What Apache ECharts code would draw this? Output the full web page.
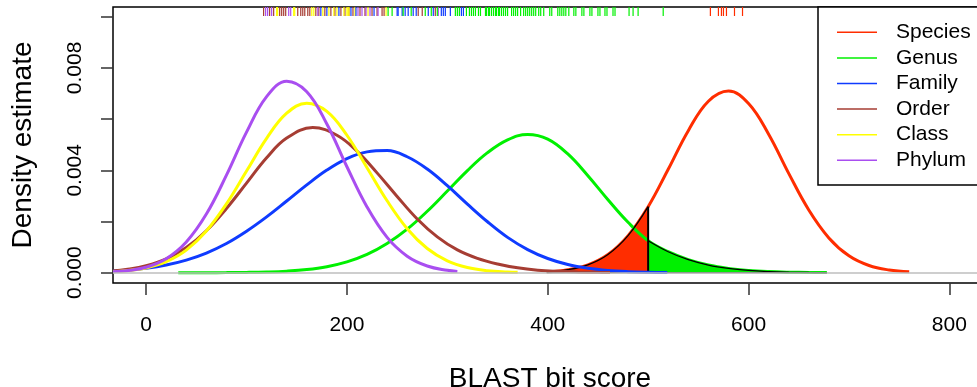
<!DOCTYPE html>
<html>
<head>
<meta charset="utf-8">
<script src="https://cdn.jsdelivr.net/npm/echarts@6/dist/echarts.min.js"></script>
<style>
  html, body { margin: 0; padding: 0; background: #fff; }
  #chart { width: 977px; height: 387px; }
</style>
</head>
<body>
<div id="chart"></div>
<script>
// Density estimates of BLAST bit scores per taxonomic rank (bit score -> density)
const speciesX = [399, 420, 440, 460, 480, 500, 520, 540, 560, 580, 600, 620, 640, 660, 680, 700, 720, 740, 760];
const speciesY = [0.0000369, 0.000117, 0.000308, 0.000713, 0.00145, 0.00258, 0.00404, 0.00555, 0.00670, 0.00710,
                  0.00661, 0.00541, 0.00388, 0.00245, 0.00136, 0.000660, 0.000281, 0.000106, 0.0000348];

const genusX = [32, 60, 80, 100, 120, 140, 160, 180, 200, 220, 240, 260, 280, 300, 320, 340, 360, 380, 400, 420,
                440, 460, 480, 500, 520, 540, 560, 580, 600, 620, 640, 660, 678];
const genusY = [0.00000045, 0.0000019, 0.0000049, 0.000012, 0.0000278, 0.0000600, 0.000122, 0.000234, 0.000421, 0.000713,
                0.00114, 0.00170, 0.00240, 0.00319, 0.00399, 0.00469, 0.00519, 0.00540, 0.00522, 0.00464,
                0.00379, 0.00285, 0.00197, 0.00125, 0.000820, 0.000508, 0.000298, 0.000166, 0.0000874, 0.0000436,
                0.0000206, 0.0000092, 0.0000043];

const familyX = [-33, -20, 0, 20, 40, 60, 80, 100, 120, 140, 160, 180, 200, 220, 240, 260, 280, 300, 320, 340,
                 360, 380, 400, 420, 440, 460, 480, 500, 519];
const familyY = [0.0000646, 0.0000972, 0.000175, 0.000301, 0.000493, 0.000768, 0.00114, 0.00162, 0.00218, 0.00280,
                 0.00343, 0.00401, 0.00446, 0.00472, 0.00477, 0.00453, 0.00405, 0.00340, 0.00268, 0.00199,
                 0.00138, 0.000904, 0.000555, 0.000320, 0.000174, 0.0000884, 0.0000423, 0.000019, 0.0000084];

const orderX = [-33, -20, 0, 20, 40, 60, 80, 100, 120, 140, 166, 190, 210, 230, 250, 270, 290, 310, 330, 350,
                370, 390, 410, 430, 450, 462];
const orderY = [0.0000716, 0.000124, 0.000271, 0.000539, 0.000983, 0.00164, 0.00251, 0.00350, 0.00449, 0.00526,
                0.00567, 0.00537, 0.00475, 0.00390, 0.00298, 0.00210, 0.00140, 0.00089, 0.00056, 0.00034,
                0.00019, 0.00010, 0.000055, 0.00003, 0.000015, 0.00001];

const classX = [-33, -20, 0, 20, 40, 60, 80, 100, 120, 140, 160, 180, 200, 220, 240, 260, 280, 300, 320, 340, 360, 370];
const classY = [0.0000375, 0.0000732, 0.000187, 0.000430, 0.000884, 0.00163, 0.00269, 0.00397, 0.00525, 0.00623,
                0.00662, 0.00630, 0.00537, 0.00410, 0.00281, 0.00172, 0.000945, 0.000465, 0.000205, 0.0000808,
                0.0000286, 0.0000163];

const phylumX = [-33, -20, 0, 20, 40, 60, 80, 100, 120, 140, 160, 180, 200, 220, 240, 260, 280, 300, 310];
const phylumY = [0.0000342, 0.0000740, 0.000215, 0.000545, 0.00120, 0.00229, 0.00381, 0.00549, 0.00688, 0.00748,
                 0.00707, 0.00581, 0.00414, 0.00257, 0.00138, 0.000646, 0.000262, 0.0000926, 0.0000521];

// Individual bit scores (rug along the top edge)
const speciesRug = [562, 570, 573, 575, 578, 586, 594];
const genusRug = [241, 245, 256, 264, 278, 284, 290, 308, 310, 312, 319, 322, 324, 326, 328, 331, 333, 338, 339, 341,
                  342, 344, 346, 348, 349, 351, 352, 354, 356, 358, 360, 364, 366, 368, 370, 373, 376, 378, 380, 382,
                  384, 386, 388, 391, 393, 396, 402, 404, 410, 412, 414, 416, 418, 421, 426, 428, 434, 436, 442, 444,
                  450, 452, 457, 459, 465, 467, 481, 485, 490, 515];
const familyRug = [174, 180, 192, 204, 209, 227, 250, 251, 255, 258, 261, 266, 269, 281, 286, 294, 296, 298, 303, 314, 316];
const orderRug = [117, 123, 127, 133, 135, 137, 139, 151, 154, 156, 158, 161, 163, 169, 172, 178, 184, 188, 194, 198,
                  202, 206, 213, 218, 225, 230, 235, 237, 271, 275, 288];
const classRug = [130, 131, 147, 148, 165, 167, 176, 182, 187, 190, 197, 200, 201, 202, 208, 221, 239];
const phylumRug = [119, 121, 125, 142, 144, 171, 211, 215, 219, 223, 231, 291];

// Score threshold separating the shaded species / genus tails
const scoreCutoff = 500;

// Axis ticks and labels
const xTicks = [0, 200, 400, 600, 800];
const yTicks = [0, 0.002, 0.004, 0.006, 0.008, 0.010];
const yLabels = [0, 0.004, 0.008];

const rankNames = ['Species', 'Genus', 'Family', 'Order', 'Class', 'Phylum'];
const rankColors = ['#ff2d00', '#00f000', '#0f3bff', '#a63d33', '#ffff00', '#a94ef0'];

const FONT = '"Liberation Sans", Arial, Helvetica, sans-serif';
const X_MIN = -33, X_MAX = 837.5;
const Y_MIN = -0.000402, Y_MAX = 0.01038;

const pairs = (xs, ys) => xs.map((x, i) => [x, ys[i]]);

function curve(name, xs, ys, color) {
  return {
    type: 'line', name, data: pairs(xs, ys),
    symbol: 'none', smooth: 0.4,
    lineStyle: { color, width: 3 }, itemStyle: { color },
    silent: true, animation: false
  };
}

function tailFill(xs, ys, keep, color) {
  const data = pairs(xs, ys).filter(p => keep(p[0]));
  return {
    type: 'line', data, symbol: 'none', smooth: 0.4,
    lineStyle: { color: '#000', width: 1.3 },
    areaStyle: { color, opacity: 1, origin: 0 },
    silent: true, animation: false
  };
}

function rug(values, color) {
  return {
    type: 'custom', data: values.map(v => [v, Y_MAX]), encode: { x: 0, y: 1 },
    silent: true, animation: false, clip: false,
    renderItem(params, api) {
      const p = api.coord([api.value(0), Y_MAX]);
      return {
        type: 'line',
        shape: { x1: p[0], y1: p[1], x2: p[0], y2: p[1] + 9 },
        style: { stroke: color, lineWidth: 1.2 }
      };
    }
  };
}

const cutIdx = speciesX.indexOf(scoreCutoff);

const series = [
  {
    type: 'line', data: [], silent: true,
    markLine: {
      symbol: 'none', silent: true, animation: false, label: { show: false },
      lineStyle: { color: '#bebebe', width: 1.5, type: 'solid' },
      data: [{ yAxis: 0 }]
    }
  },
  curve('Species', speciesX, speciesY, rankColors[0]),
  curve('Genus', genusX, genusY, rankColors[1]),
  tailFill(speciesX, speciesY, x => x <= scoreCutoff, rankColors[0]),
  tailFill(genusX, genusY, x => x >= scoreCutoff, rankColors[1]),
  {
    type: 'line', symbol: 'none', silent: true, animation: false,
    data: [[speciesX[0], 0], [genusX[genusX.length - 1], 0]],
    lineStyle: { color: '#000', width: 1 }
  },
  {
    type: 'line', symbol: 'none', silent: true, animation: false,
    data: [[scoreCutoff, 0], [scoreCutoff, speciesY[cutIdx]]],
    lineStyle: { color: '#000', width: 2 }
  },
  curve('Family', familyX, familyY, rankColors[2]),
  curve('Order', orderX, orderY, rankColors[3]),
  curve('Class', classX, classY, rankColors[4]),
  curve('Phylum', phylumX, phylumY, rankColors[5]),
  rug(orderRug, rankColors[3]),
  rug(phylumRug, rankColors[5]),
  rug(classRug, rankColors[4]),
  rug(familyRug, rankColors[2]),
  rug(genusRug, rankColors[1]),
  rug(speciesRug, rankColors[0])
];

const chart = echarts.init(document.getElementById('chart'), null, { renderer: 'canvas' });
chart.setOption({
  animation: false,
  backgroundColor: '#fff',
  grid: {
    left: 113, top: 7, width: 874, height: 276,
    outerBoundsMode: 'none', containLabel: false,
    show: true, borderColor: '#000', borderWidth: 1.5, backgroundColor: 'transparent'
  },
  xAxis: {
    type: 'value', min: X_MIN, max: X_MAX,
    axisLine: { show: false, onZero: false }, splitLine: { show: false },
    axisTick: { show: true, customValues: xTicks, length: 12, lineStyle: { color: '#333', width: 1.5 } },
    axisLabel: { customValues: xTicks, fontSize: 21, color: '#000', fontFamily: FONT, margin: 32 },
    name: 'BLAST bit score', nameLocation: 'middle', nameGap: 82,
    nameTextStyle: { fontSize: 28, color: '#000', fontFamily: FONT }
  },
  yAxis: {
    type: 'value', min: Y_MIN, max: Y_MAX,
    axisLine: { show: false, onZero: false }, splitLine: { show: false },
    axisTick: { show: true, customValues: yTicks, length: 12, lineStyle: { color: '#333', width: 1.5 } },
    axisLabel: {
      customValues: yLabels, rotate: 90, fontSize: 21, color: '#000', fontFamily: FONT, margin: 27,
      formatter: v => Number(v).toFixed(3)
    },
    name: 'Density estimate', nameLocation: 'middle', nameGap: 76,
    nameTextStyle: { fontSize: 28, color: '#000', fontFamily: FONT }
  },
  legend: {
    data: rankNames, orient: 'vertical', left: 837, top: 21.3, padding: 0,
    icon: 'rect', itemWidth: 40, itemHeight: 1.5, itemGap: 3.6, z: 100,
    selectedMode: false,
    textStyle: { fontSize: 21, lineHeight: 22, color: '#000', fontFamily: FONT, padding: [0, 0, 0, 14] }
  },
  graphic: [{
    type: 'rect', z: 50, silent: true,
    shape: { x: 818, y: 7, width: 200, height: 178 },
    style: { fill: '#fff', stroke: '#000', lineWidth: 1.5 }
  }],
  series
});
</script>
</body>
</html>
